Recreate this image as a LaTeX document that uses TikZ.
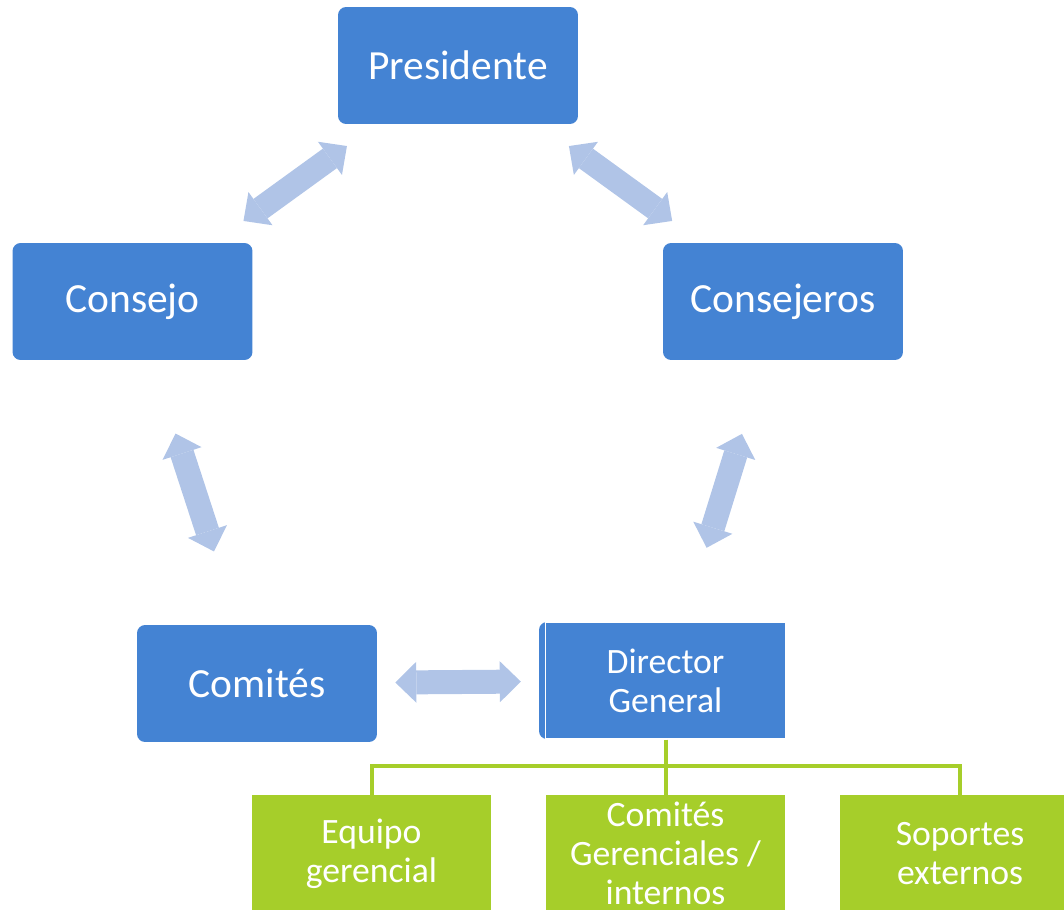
\documentclass[tikz,border=0pt]{standalone}
\usepackage{fontspec}
\setmainfont{Carlito}
\usetikzlibrary{arrows.meta}
\definecolor{boxblue}{RGB}{68,131,211}
\definecolor{arrowblue}{RGB}{176,196,231}
\definecolor{leafgreen}{RGB}{166,206,42}
\tikzset{
  bluebox/.style={rectangle, rounded corners=0.16cm, fill=boxblue, text=white,
    minimum width=4.8cm, minimum height=2.34cm, inner sep=0pt,
    font=\fontsize{23.6}{28}\selectfont},
  dirbox/.style={rectangle, fill=boxblue, draw=white, line width=0.8pt, text=white,
    minimum width=4.8cm, minimum height=2.34cm, inner sep=0pt, align=center,
    font=\fontsize{20.3}{22.2}\selectfont},
  greenbox/.style={rectangle, fill=leafgreen, text=white,
    minimum width=4.8cm, minimum height=2.34cm, inner sep=0pt, align=center,
    font=\fontsize{20.3}{22.2}\selectfont},
  dblarrow/.style={color=arrowblue, line width=0.48cm,
    {Triangle[width=0.82cm,length=0.42cm,line width=0pt]}-{Triangle[width=0.82cm,length=0.42cm,line width=0pt]}},
  branch/.style={draw=leafgreen, line width=0.08cm}
}
\begin{document}
\begin{tikzpicture}[x=0.02cm,y=-0.02cm]
          \useasboundingbox (0,0) rectangle (1064,909);
          \node[bluebox] at (458,65.5) (pres) {Presidente};
          \node[bluebox] at (132.5,301.5) (consejo) {Consejo};
          \node[bluebox] at (783,301.5) (consejeros) {Consejeros};
          \node[bluebox] at (257,683.5) (comites) {Comités};
          \fill[boxblue, rounded corners=0.16cm] (539,622) rectangle (640,739);
          \node[dirbox] at (665.5,680.5) (dir) {Director\\General};
          \node[greenbox] at (371.5,853.5) (equipo) {Equipo\\gerencial};
          \node[greenbox] at (665.5,853.5) (comger) {Comités\\Gerenciales /\\internos};
          \node[greenbox] at (960,853.5) (soportes) {Soportes\\externos};
          \coordinate (hub) at (665.5,766);
          \path[dblarrow, shorten <=0.74cm, shorten >=0.74cm] (pres) edge (consejo);
          \path[dblarrow, shorten <=0.74cm, shorten >=0.74cm] (pres) edge (consejeros);
          \path[dblarrow, shorten <=1.54cm, shorten >=1.54cm] (consejo) edge (comites);
          \path[dblarrow, shorten <=1.54cm, shorten >=1.54cm] (consejeros) edge (dir);
          \path[dblarrow, shorten <=0.36cm, shorten >=0.48cm] (comites) edge (dir);
          \draw[branch] (dir.south) -- (comger.north);
          \draw[branch] (equipo.north) |- (hub) -| (soportes.north);
        \end{tikzpicture}
\end{document}
